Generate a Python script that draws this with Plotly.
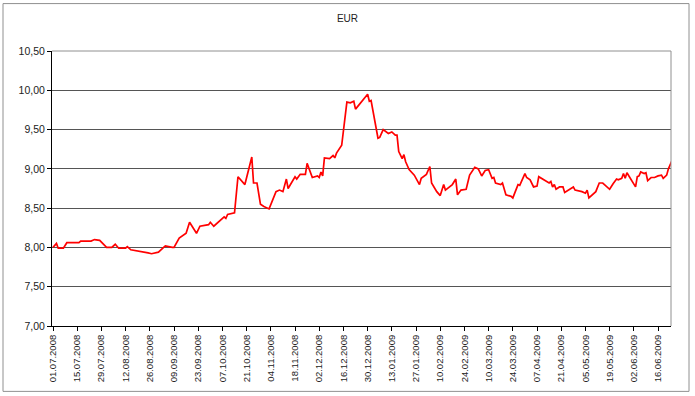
import plotly.graph_objects as go

title_text = "EUR"

dates = [
    "2008-07-01", "2008-07-03", "2008-07-04", "2008-07-07", "2008-07-09", "2008-07-16", "2008-07-17",
    "2008-07-23", "2008-07-25", "2008-07-28", "2008-08-01", "2008-08-04", "2008-08-06", "2008-08-08",
    "2008-08-12", "2008-08-13", "2008-08-15", "2008-08-21", "2008-08-25", "2008-08-27", "2008-08-31",
    "2008-09-03", "2008-09-04", "2008-09-08", "2008-09-09", "2008-09-12", "2008-09-16", "2008-09-18",
    "2008-09-22", "2008-09-24", "2008-09-29", "2008-09-30", "2008-10-02", "2008-10-08", "2008-10-09",
    "2008-10-10", "2008-10-14", "2008-10-16", "2008-10-20", "2008-10-24", "2008-10-25", "2008-10-27",
    "2008-10-29", "2008-10-31", "2008-11-03", "2008-11-07", "2008-11-09", "2008-11-11", "2008-11-13",
    "2008-11-14", "2008-11-18", "2008-11-19", "2008-11-21", "2008-11-24", "2008-11-25", "2008-11-28",
    "2008-12-01", "2008-12-02", "2008-12-03", "2008-12-04", "2008-12-05", "2008-12-08", "2008-12-10",
    "2008-12-11", "2008-12-12", "2008-12-15", "2008-12-16", "2008-12-18", "2008-12-20", "2008-12-22",
    "2008-12-23", "2008-12-30", "2008-12-31", "2009-01-01", "2009-01-05", "2009-01-06", "2009-01-08",
    "2009-01-11", "2009-01-13", "2009-01-15", "2009-01-16", "2009-01-17", "2009-01-19", "2009-01-20",
    "2009-01-21", "2009-01-23", "2009-01-26", "2009-01-29", "2009-01-30", "2009-02-02", "2009-02-04",
    "2009-02-05", "2009-02-08", "2009-02-10", "2009-02-12", "2009-02-13", "2009-02-17", "2009-02-19",
    "2009-02-20", "2009-02-22", "2009-02-25", "2009-02-27", "2009-03-02", "2009-03-04", "2009-03-06",
    "2009-03-08", "2009-03-10", "2009-03-12", "2009-03-13", "2009-03-14", "2009-03-17", "2009-03-18",
    "2009-03-20", "2009-03-23", "2009-03-24", "2009-03-27", "2009-03-28", "2009-03-31", "2009-04-01",
    "2009-04-03", "2009-04-05", "2009-04-07", "2009-04-08", "2009-04-11", "2009-04-14", "2009-04-15",
    "2009-04-16", "2009-04-17", "2009-04-18", "2009-04-20", "2009-04-22", "2009-04-23", "2009-04-25",
    "2009-04-28", "2009-04-29", "2009-05-01", "2009-05-03", "2009-05-05", "2009-05-06", "2009-05-07",
    "2009-05-09", "2009-05-11", "2009-05-13", "2009-05-15", "2009-05-16", "2009-05-19", "2009-05-21",
    "2009-05-23", "2009-05-24", "2009-05-26", "2009-05-27", "2009-05-28", "2009-05-29", "2009-05-31",
    "2009-06-02", "2009-06-03", "2009-06-04", "2009-06-05", "2009-06-06", "2009-06-08", "2009-06-09",
    "2009-06-10", "2009-06-12", "2009-06-14", "2009-06-16", "2009-06-18", "2009-06-19", "2009-06-21",
    "2009-06-22", "2009-06-24",
]

eur_values = [
    8.00, 8.05, 7.99, 7.99, 8.06, 8.06, 8.08,
    8.08, 8.10, 8.09, 8.00, 8.00, 8.04, 7.99,
    7.99, 8.01, 7.97, 7.95, 7.93, 7.92, 7.94,
    8.00, 8.02, 8.00, 8.00, 8.12, 8.18, 8.32,
    8.18, 8.27, 8.29, 8.32, 8.27, 8.39, 8.37,
    8.42, 8.44, 8.90, 8.80, 9.15, 8.82, 8.82,
    8.55, 8.52, 8.49, 8.71, 8.73, 8.71, 8.87,
    8.75, 8.90, 8.87, 8.93, 8.93, 9.07, 8.89,
    8.91, 8.89, 8.96, 8.91, 9.14, 9.13, 9.17,
    9.14, 9.20, 9.30, 9.49, 9.85, 9.84, 9.86,
    9.76, 9.95, 9.86, 9.87, 9.39, 9.40, 9.50,
    9.45, 9.47, 9.43, 9.43, 9.22, 9.13, 9.18,
    9.09, 8.99, 8.92, 8.80, 8.88, 8.93, 9.03,
    8.82, 8.71, 8.66, 8.80, 8.73, 8.80, 8.87,
    8.67, 8.73, 8.74, 8.92, 9.02, 9.00, 8.91,
    8.98, 8.99, 8.88, 8.89, 8.82, 8.80, 8.82,
    8.67, 8.65, 8.63, 8.80, 8.79, 8.94, 8.89,
    8.86, 8.77, 8.78, 8.90, 8.86, 8.82, 8.84,
    8.77, 8.80, 8.74, 8.77, 8.77, 8.70, 8.73,
    8.77, 8.73, 8.72, 8.71, 8.69, 8.73, 8.63,
    8.67, 8.71, 8.82, 8.82, 8.80, 8.74, 8.81,
    8.87, 8.86, 8.88, 8.94, 8.88, 8.95, 8.87,
    8.81, 8.77, 8.90, 8.91, 8.96, 8.94, 8.95,
    8.85, 8.89, 8.89, 8.91, 8.92, 8.88, 8.92,
    9.00, 9.10,
]

x_range = ["2008-06-30 10:00", "2009-06-23 12:00"]
x_tick_start = "2008-07-01"
y_range = [7.0, 10.5]

FONT = "Liberation Sans, Arial, sans-serif"

fig = go.Figure()
fig.add_trace(go.Scatter(
    x=dates, y=eur_values, mode="lines",
    line=dict(color="#ff0000", width=1.7),
    hoverinfo="skip", showlegend=False,
))

fig.update_layout(
    width=695, height=396,
    margin=dict(l=52, r=24, t=51, b=70, autoexpand=False),
    paper_bgcolor="white", plot_bgcolor="white",
    separators=", ",
    font=dict(family=FONT, color="#222222"),
    title=dict(text=title_text, x=0.5, xanchor="center", y=1 - 18 / 396, yanchor="middle",
               font=dict(family=FONT, size=10, color="#222222")),
    showlegend=False,
)

fig.update_xaxes(
    type="date", range=x_range,
    tick0=x_tick_start, dtick=14 * 24 * 3600 * 1000,
    tickformat="%d.%m.%Y", tickangle=-90,
    ticks="outside", ticklen=4, tickcolor="#000000",
    showline=True, linecolor="#000000", linewidth=1,
    showgrid=False, zeroline=False, automargin=False,
    tickfont=dict(family=FONT, size=9.5, color="#222222"),
)
fig.update_yaxes(
    range=y_range, dtick=0.5, tick0=7.0, tickformat=".2f",
    ticks="outside", ticklen=4, tickcolor="#000000",
    showline=True, linecolor="#000000", linewidth=1,
    showgrid=True, gridcolor="#555555", gridwidth=1,
    zeroline=False, automargin=False,
    tickfont=dict(family=FONT, size=10.5, color="#222222"),
)

# plot area border (top / right in gray)
fig.add_shape(type="line", xref="paper", yref="paper", x0=0, x1=1, y0=1, y1=1,
              line=dict(color="#909090", width=1))
fig.add_shape(type="line", xref="paper", yref="paper", x0=1, x1=1, y0=0, y1=1,
              line=dict(color="#909090", width=1))
# outer chart border
fig.add_shape(type="rect", xref="paper", yref="paper",
              x0=(3 - 52) / 619, x1=(689 - 52) / 619,
              y0=(326.5 - 392) / 275.5, y1=(326.5 - 3.5) / 275.5,
              line=dict(color="#909090", width=1), layer="below")

fig.write_html("out.html", config={"displayModeBar": False, "staticPlot": True},
               post_script="document.body.style.margin='0';")
